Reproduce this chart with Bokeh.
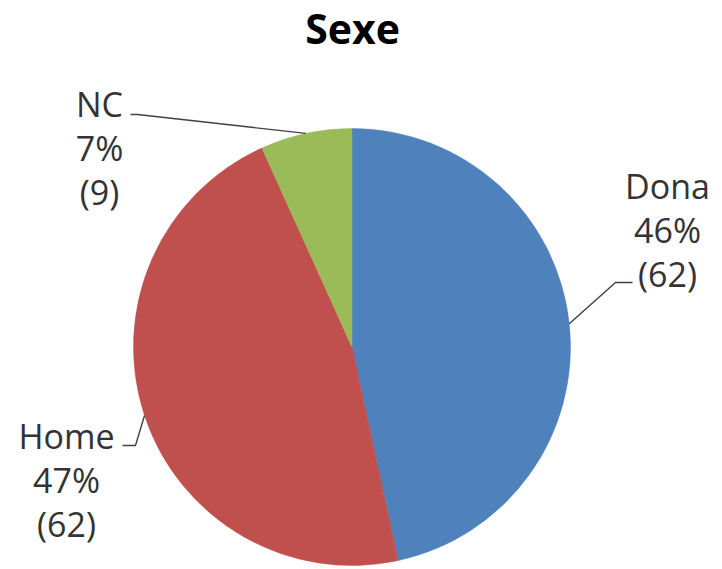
import math
from bokeh.plotting import figure
from bokeh.models import Range1d, ColumnDataSource
from bokeh.core.properties import value
from bokeh.embed import file_html
from bokeh.resources import INLINE

# ---- data ----
title_text = "Sexe"
categories = ["Dona", "Home", "NC"]
counts = [62, 62, 9]
pct_labels = ["46%", "47%", "7%"]
colors = ["#4F81BD", "#C0504D", "#9BBB59"]

# ---- layout (pixel coordinates of the 722x569 window) ----
W, H = 722, 569
def Y(yi):
    return H - yi

cx, cy, r = 351.5, Y(346.5), 218.5
label_x = [667, 66, 99]
label_y0 = [185, 435, 103]
line_gap = 44
leader_start = [(632, 282), (122, 445), (130, 114)]
leader_elbow = [(615, 282), (135, 445), (137, 114)]

FONT = "Open Sans"
TXT = "#333333"

p = figure(width=W, height=H, x_range=Range1d(0, W), y_range=Range1d(0, H),
           output_backend="svg", toolbar_location=None, min_border=0,
           x_axis_location=None, y_axis_location=None)
p.grid.visible = False
p.outline_line_color = None
p.background_fill_color = "white"
p.border_fill_color = "white"

total = sum(counts)
starts, ends, mids = [], [], []
a = math.pi / 2
for c in counts:
    sweep = 2 * math.pi * c / total
    starts.append(a - sweep)
    ends.append(a)
    mids.append(a - sweep / 2)
    a -= sweep

src = ColumnDataSource(dict(x=[cx] * 3, y=[cy] * 3, start=starts, end=ends,
                            color=colors, cat=categories))
p.wedge(x="x", y="y", radius=r, start_angle="start", end_angle="end",
        direction="anticlock", fill_color="color", line_color="color",
        line_width=0.5, source=src)

# leader lines
xs, ys = [], []
for i, m in enumerate(mids):
    ex = cx + r * math.cos(m)
    ey = cy + r * math.sin(m)
    sx, sy = leader_start[i]
    bx, by = leader_elbow[i]
    xs.append([sx, bx, ex])
    ys.append([Y(sy), Y(by), ey])
p.multi_line(xs=xs, ys=ys, line_color="#404040", line_width=1.4)

# data labels
lines = [categories, pct_labels, ["(%d)" % c for c in counts]]
for k, txt in enumerate(lines):
    p.text(x=label_x, y=[Y(v + k * line_gap) for v in label_y0], text=txt,
           text_font=value(FONT), text_font_size="34px", text_color=TXT,
           text_align="center", text_baseline="middle")

# title
p.text(x=[352], y=[Y(27)], text=[title_text], text_font=value(FONT),
       text_font_size="41px", text_font_style="bold", text_color="#000000",
       text_align="center", text_baseline="middle")

open("out.html", "w").write(file_html(p, INLINE))
